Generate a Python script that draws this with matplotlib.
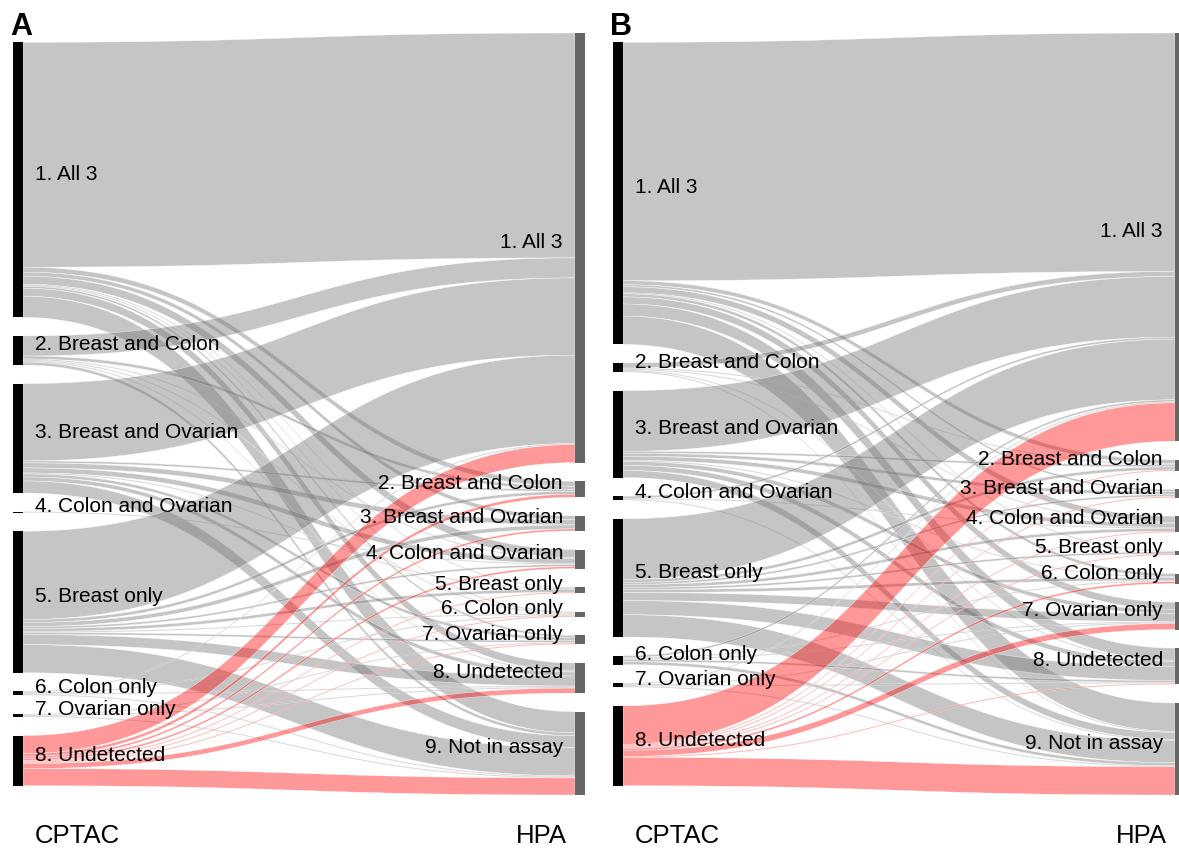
import numpy as np
import matplotlib.pyplot as plt
from matplotlib.patches import Polygon, Rectangle

plt.rcParams['font.family'] = ['Liberation Sans', 'DejaVu Sans']

# node names: CPTAC on the left, HPA on the right
cptac = ['1. All 3', '2. Breast and Colon', '3. Breast and Ovarian',
         '4. Colon and Ovarian', '5. Breast only', '6. Colon only',
         '7. Ovarian only', '8. Undetected']
hpa = cptac + ['9. Not in assay']

# protein counts, rows = CPTAC group, columns = HPA group
flows_a = np.array([
    [224, 5, 4, 8, 1, 1, 2, 8, 21],
    [20, 3, 0, 1, 0, 1, 0, 1, 3],
    [77, 2, 5, 5, 1, 0, 3, 4, 12],
    [0, 0, 0, 1, 0, 0, 0, 0, 0],
    [88, 3, 4, 2, 3, 1, 2, 10, 28],
    [1, 0, 0, 0, 0, 1, 0, 1, 1],
    [0, 0, 0, 0, 0, 0, 1, 1, 1],
    [18, 3, 2, 2, 1, 1, 1, 5, 17],
])
flows_b = np.array([
    [236, 4, 2, 6, 1, 3, 7, 12, 28],
    [5, 1, 0, 1, 0, 0, 0, 1, 1],
    [60, 2, 3, 4, 0, 1, 4, 5, 7],
    [2, 0, 0, 1, 0, 0, 0, 0, 1],
    [60, 3, 2, 3, 2, 3, 8, 14, 22],
    [2, 0, 0, 0, 0, 1, 1, 2, 3],
    [1, 0, 0, 0, 0, 0, 1, 1, 1],
    [38, 1, 1, 1, 1, 2, 6, 1, 28],
])

W, H = 1179, 848
fig = plt.figure(figsize=(W / 100, H / 100), dpi=100)

gap_frac = 0.0303
bar_px = 10
ax_w_px = 572
grey_fc = (0.44, 0.44, 0.44, 0.4)
red_fc = (1.0, 0.0, 0.0, 0.4)


def stack(sizes, gap, offset):
    tops = []
    y = offset
    for s in sizes:
        tops.append(y)
        y += s + gap
    return np.array(tops, dtype=float)


def band(x0, x1, a0, b0, a1, b1, n=80):
    # ribbon between two cubic bezier curves
    t = np.linspace(0, 1, n)
    xm = (x0 + x1) / 2
    bx = (1 - t) ** 3 * x0 + 3 * (1 - t) ** 2 * t * xm + 3 * (1 - t) * t ** 2 * xm + t ** 3 * x1
    s = 3 * (1 - t) * t ** 2 + t ** 3
    top = a0 + (a1 - a0) * s
    bot = b0 + (b1 - b0) * s
    xs = np.concatenate([bx, bx[::-1]])
    ys = np.concatenate([top, bot[::-1]])
    return np.column_stack([xs, ys])


def sankey(ax, flows):
    total = flows.sum()
    gap = gap_frac * total
    left = flows.sum(axis=1)
    right = flows.sum(axis=0)
    height = total + gap * (len(right) - 1)
    ltop = stack(left, gap, gap / 2 * (len(right) - len(left)))
    rtop = stack(right, gap, 0)
    w = bar_px / ax_w_px

    lcur = ltop.copy()
    rcur = rtop.copy()
    for i in range(flows.shape[0]):
        for j in range(flows.shape[1]):
            v = flows[i, j]
            if v <= 0:
                continue
            a0, b0 = lcur[i], lcur[i] + v
            a1, b1 = rcur[j], rcur[j] + v
            lcur[i] += v
            rcur[j] += v
            fc = red_fc if i == len(left) - 1 else grey_fc
            ax.add_patch(Polygon(band(w, 1 - w, a0, b0, a1, b1), closed=True,
                                 facecolor=fc, edgecolor=(1, 1, 1, 0.8), lw=0.3))

    for k, s in enumerate(left):
        ax.add_patch(Rectangle((0, ltop[k]), w, s, color='black', lw=0))
        ax.text(w + 12 / ax_w_px, ltop[k] + s / 2, cptac[k], fontsize=15,
                ha='left', va='baseline')
    for k, s in enumerate(right):
        ax.add_patch(Rectangle((1 - w, rtop[k]), w, s, color='#666666', lw=0))
        ax.text(1 - w - 12 / ax_w_px, rtop[k] + s / 2, hpa[k], fontsize=15,
                ha='right', va='baseline')

    ax.set_xlim(0, 1)
    ax.set_ylim(height, 0)
    ax.axis('off')


for flows, x0, letter in [(flows_a, 13, 'A'), (flows_b, 613, 'B')]:
    ax = fig.add_axes([x0 / W, 1 - 795 / H, ax_w_px / W, 762 / H])
    sankey(ax, flows)
    fig.text((x0 - 3) / W, 1 - 35 / H, letter, fontsize=22, fontweight='bold',
             ha='left', va='baseline')
    fig.text((x0 + 22) / W, 1 - 843 / H, 'CPTAC', fontsize=18.5,
             ha='left', va='baseline')
    fig.text((x0 + 554) / W, 1 - 843 / H, 'HPA', fontsize=18.5,
             ha='right', va='baseline')

fig.savefig('out.png', dpi=100)
